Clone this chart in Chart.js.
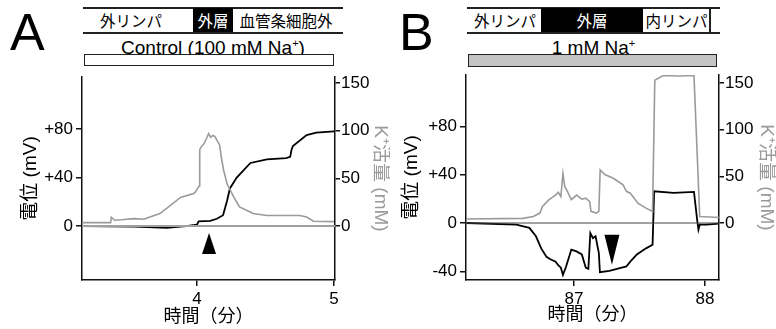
<!DOCTYPE html>
<html>
<head>
<meta charset="utf-8">
<script src="https://cdn.jsdelivr.net/npm/chart.js@4/dist/chart.umd.min.js"></script>
<style>
  body { margin: 0; background: #fff; }
  #page { position: relative; width: 776px; height: 329px; overflow: hidden; font-family: 'Liberation Sans', 'Noto Sans CJK JP', sans-serif; }
  .abs { position: absolute; }
  .letter { font-size: 52px; line-height: 52px; color: #000; }
  .hline { height: 2px; background: #222; }
  .vline { width: 2px; background: #222; }
  .seg { height: 25px; line-height: 25px; text-align: center; font-family: 'Noto Sans CJK JP', sans-serif; font-size: 15.5px; color: #000; white-space: nowrap; }
  .seg.dark { background: #000; color: #fff; }
  .cond { font-size: 19px; line-height: 20px; text-align: center; white-space: nowrap; }
  .cond sup { font-size: 11px; vertical-align: 7px; line-height: 0; }
  .bar { box-sizing: border-box; border: 1.5px solid #222; }
  canvas { position: absolute; top: 0; }
</style>
</head>
<body>
<div id="page">
  <div class="abs letter" style="left:10px;top:6px;">A</div>
  <div class="abs letter" style="left:399px;top:6px;">B</div>

  <!-- panel A header -->
  <div class="abs hline" style="left:83px;top:7px;width:260px;"></div>
  <div class="abs hline" style="left:83px;top:32px;width:260px;"></div>
  <div class="abs seg" style="left:95px;top:8px;width:72px;">外リンパ</div>
  <div class="abs seg dark" style="left:193px;top:8px;width:40px;height:24px;">外層</div>
  <div class="abs seg" style="left:236px;top:8px;width:100px;">血管条細胞外</div>
  <div class="abs cond" style="left:83px;top:38px;width:260px;">Control (100 mM Na<sup>+</sup>)</div>
  <div class="abs bar" style="left:84px;top:54px;width:250px;height:12px;background:#fff;"></div>

  <!-- panel B header -->
  <div class="abs hline" style="left:467px;top:7px;width:253px;"></div>
  <div class="abs hline" style="left:467px;top:32px;width:253px;"></div>
  <div class="abs seg" style="left:470px;top:8px;width:70px;">外リンパ</div>
  <div class="abs seg dark" style="left:541px;top:8px;width:102px;height:24px;">外層</div>
  <div class="abs seg" style="left:643px;top:8px;width:67px;">内リンパ</div>
  <div class="abs vline" style="left:709px;top:7px;height:27px;"></div>
  <div class="abs cond" style="left:467px;top:38px;width:253px;">1 mM Na<sup>+</sup></div>
  <div class="abs bar" style="left:468px;top:54px;width:249px;height:13px;background:#c4c4c4;"></div>

  <canvas id="chartA" width="390" height="329" style="left:0;width:390px;height:329px;"></canvas>
  <canvas id="chartB" width="386" height="329" style="left:390px;width:386px;height:329px;"></canvas>
</div>

<script>
// ---- panel A (control, 100 mM Na+) ----
const aKTime = [3.16, 3.37, 3.375, 3.40, 3.45, 3.54, 3.61, 3.73, 3.88, 3.976, 3.99, 4.015, 4.02, 4.035, 4.05, 4.07, 4.085, 4.10, 4.115, 4.13, 4.145, 4.165, 4.18, 4.195, 4.22, 4.27, 4.31, 4.41, 4.51, 4.75, 4.80, 4.85, 5.0];
const aKValue = [3.5, 3.5, 9, 6, 6.5, 7.7, 7, 13, 30, 34, 36, 42, 80, 84, 86, 92, 97, 93, 95, 94, 90, 85, 70, 58, 44, 30, 20, 13, 11, 11, 9.4, 5, 4.5];
const aVTime = [3.16, 3.54, 3.78, 3.92, 4.0, 4.012, 4.097, 4.145, 4.19, 4.22, 4.24, 4.29, 4.39, 4.51, 4.65, 4.68, 4.69, 4.70, 4.80, 4.87, 5.0];
const aVValue = [0, -0.5, -1.4, 0, 1.1, 3.9, 4.2, 6, 8.9, 21, 31, 40, 52, 55, 56, 57, 63, 66, 75, 77, 78];
const aTimeTicks = [4, 5];
const aVoltTicks = [0, 40, 80];
const arrowA = [4.088, -5.8];

// ---- panel B (1 mM Na+) ----
const bKTime = [86.18, 86.61, 86.69, 86.74, 86.76, 86.81, 86.86, 86.88, 86.90, 86.916, 86.93, 86.95, 86.98, 87.02, 87.06, 87.09, 87.12, 87.13, 87.17, 87.19, 87.20, 87.235, 87.30, 87.375, 87.40, 87.43, 87.49, 87.55, 87.60, 87.617, 87.68, 87.80, 87.916, 87.96, 88.107];
const bKValue = [4.3, 5, 7, 10.7, 17.8, 25, 30, 33, 28.5, 53, 39, 34, 25, 30, 25.6, 26.7, 23, 12.5, 10.7, 12.5, 57, 52, 48, 41, 34, 32, 21, 16, 12.5, 153, 158, 157.5, 158, 7, 6];
const bVTime = [86.18, 86.56, 86.66, 86.71, 86.75, 86.79, 86.82, 86.86, 86.88, 86.90, 86.916, 86.94, 86.98, 87.02, 87.06, 87.09, 87.11, 87.125, 87.145, 87.165, 87.19, 87.198, 87.27, 87.35, 87.40, 87.43, 87.48, 87.55, 87.60, 87.612, 87.76, 87.916, 87.94, 87.95, 87.96, 88.01, 88.107];
const bVValue = [0, -1.4, -4, -11, -21, -28, -30, -32, -35, -37, -43, -36, -22, -23.5, -26, -37, -38, -8.3, -12.5, -11, -25, -40.7, -39.6, -37.4, -36, -32, -26, -21, -18, 26.3, 25, 25.8, 2.8, -5.5, -1.4, -1.4, -0.5];
const bTimeTicks = [87, 88];
const bVoltTicks = [-40, 0, 40, 80];
const arrowB = [87.29, -34.6];

const kTicks = [0, 50, 100, 150];

Chart.defaults.font.family = "'Liberation Sans', 'Noto Sans CJK JP', sans-serif";
Chart.defaults.color = '#000';

function pairs(xs, ys) {
  return xs.map((x, i) => ({x: x, y: ys[i]}));
}

const arrowPlugin = {
  id: 'arrowMark',
  afterDatasetsDraw(chart, args, opts) {
    const ctx = chart.ctx;
    const px = chart.scales.x.getPixelForValue(opts.at[0]);
    const py = chart.scales.yV.getPixelForValue(opts.at[1]);
    const s = opts.dir === 'up' ? 1 : -1;
    ctx.save();
    ctx.fillStyle = '#000';
    ctx.beginPath();
    ctx.moveTo(px, py);
    ctx.lineTo(px - opts.w / 2, py + s * opts.h);
    ctx.lineTo(px + opts.w / 2, py + s * opts.h);
    ctx.closePath();
    ctx.fill();
    ctx.restore();
  }
};

function makeChart(id, cfg) {
  const titleFont = {size: 19, lineHeight: 1, family: "'Liberation Sans', 'Noto Sans CJK JP', sans-serif"};
  new Chart(document.getElementById(id), {
    type: 'scatter',
    data: {
      datasets: [
        {
          data: pairs([cfg.xRange[0], cfg.xRange[1]], [0, 0]),
          yAxisID: 'yV', showLine: true, pointRadius: 0,
          borderColor: cfg.zeroColor, borderWidth: cfg.zeroWidth
        },
        {
          data: pairs(cfg.kTime, cfg.kValue),
          yAxisID: 'yK', showLine: true, pointRadius: 0,
          borderColor: '#9a9a9a', borderWidth: 1.6
        },
        {
          data: pairs(cfg.vTime, cfg.vValue),
          yAxisID: 'yV', showLine: true, pointRadius: 0,
          borderColor: '#000', borderWidth: 1.8
        }
      ]
    },
    options: {
      responsive: false,
      animation: false,
      layout: {padding: {top: cfg.top, left: 0, right: 0, bottom: 0}},
      plugins: {
        legend: {display: false},
        tooltip: {enabled: false},
        arrowMark: cfg.arrow
      },
      scales: {
        x: {
          type: 'linear',
          min: cfg.xRange[0], max: cfg.xRange[1],
          afterBuildTicks: s => { s.ticks = cfg.xTicks.map(v => ({value: v})); },
          afterFit: s => { s.height = 49; },
          grid: {drawOnChartArea: false, drawTicks: true, tickLength: 6, color: '#111', lineWidth: 1.5},
          border: {color: '#111', width: 1.5},
          ticks: {font: {size: 17}, padding: 3, maxRotation: 0},
          title: {display: true, text: '時間（分）', font: {size: 18, lineHeight: 1}, padding: {bottom: cfg.xTitlePad, top: 0}}
        },
        yV: {
          type: 'linear', position: 'left',
          min: cfg.vRange[0], max: cfg.vRange[1],
          afterBuildTicks: s => { s.ticks = cfg.vTicks.map(v => ({value: v})); },
          afterFit: s => { s.width = cfg.leftW; },
          grid: {drawOnChartArea: false, drawTicks: true, tickLength: 6, color: '#111', lineWidth: 1.5},
          border: {color: '#111', width: 1.5},
          ticks: {font: {size: 17}, padding: 3, callback: v => v > 0 ? '+' + v : String(v)},
          title: {display: true, text: '電位 (mV)', font: titleFont, padding: {top: cfg.leftTitlePad, bottom: 0}}
        },
        yK: {
          type: 'linear', position: 'right',
          min: cfg.kRange[0], max: cfg.kRange[1],
          afterBuildTicks: s => { s.ticks = kTicks.map(v => ({value: v})); },
          afterFit: s => { s.width = cfg.rightW; },
          grid: {drawOnChartArea: false, drawTicks: true, tickLength: 5, color: '#111', lineWidth: 1.5},
          border: {color: '#111', width: 1.5},
          ticks: {font: {size: 17}, padding: 1},
          title: {display: true, text: 'K⁺活量 (mM)', color: '#9a9a9a', font: titleFont, padding: {top: 0.5, bottom: 0}}
        }
      }
    },
    plugins: [arrowPlugin]
  });
}

makeChart('chartA', {
  kTime: aKTime, kValue: aKValue, vTime: aVTime, vValue: aVValue,
  xRange: [3.161, 5.007], vRange: [-44.5, 122.9], kRange: [-56.7, 156.3],
  xTicks: aTimeTicks, vTicks: aVoltTicks,
  top: 77, leftW: 82, rightW: 55, leftTitlePad: 21.5, xTitlePad: 3,
  zeroColor: '#a0a0a0', zeroWidth: 2,
  arrow: {at: arrowA, dir: 'up', w: 14, h: 21}
});

makeChart('chartB', {
  kTime: bKTime, kValue: bKValue, vTime: bVTime, vValue: bVValue,
  xRange: [86.176, 88.107], vRange: [-47.2, 122.6], kRange: [-61, 158.6],
  xTicks: bTimeTicks, vTicks: bVoltTicks,
  top: 75, leftW: 76, rightW: 57, leftTitlePad: 12.5, xTitlePad: 5,
  zeroColor: '#444', zeroWidth: 1,
  arrow: {at: arrowB, dir: 'down', w: 15, h: 30}
});
</script>
</body>
</html>
